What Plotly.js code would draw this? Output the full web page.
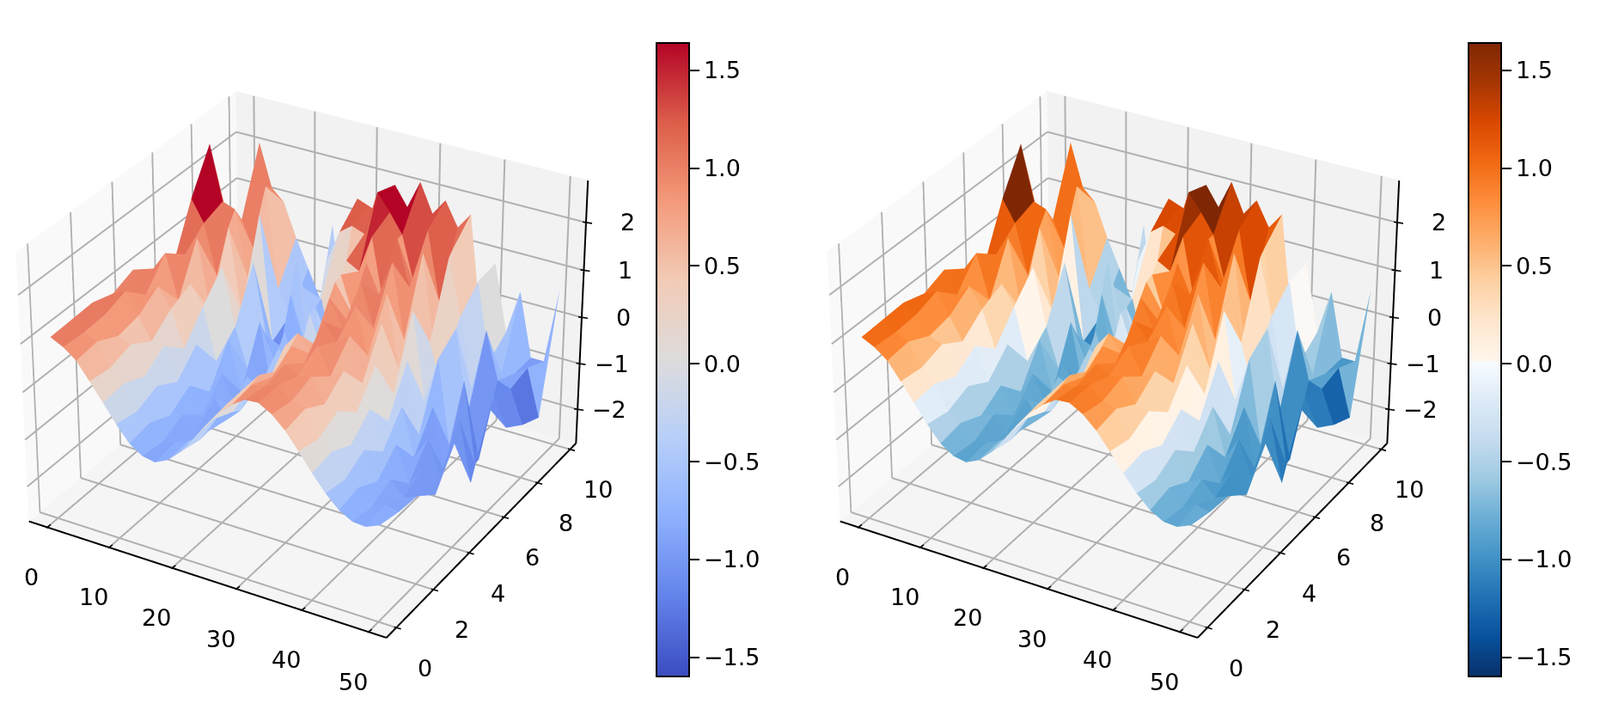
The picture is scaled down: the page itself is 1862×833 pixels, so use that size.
<!DOCTYPE html>
<html>
<head>
<meta charset="utf-8">
<script src="https://cdn.plot.ly/plotly-3.0.1.min.js"></script>
<style>
html,body{margin:0;padding:0;background:#fff;width:1862px;height:833px;overflow:hidden}
#plot{position:absolute;left:0;top:-1257px;width:1862px;height:3332px}
</style>
</head>
<body>
<div id="plot"></div>
<script>
const xValues = [0,2,4,6,8,10,12,14,16,18,20,22,24,26,28,30,32,34,36,38,40,42,44,46,48,50]
const yValues = [0,1,2,3,4,5,6,7,8,9,10]

// heights, one row per y
const row0 = [1.08,.95,.75,.40,.04,-.33,-.65,-.83,-.88,-.75,-.50,-.15,.22,.55,.80,.98,1.00,.85,.60,.26,-.10,-.43,-.69,-.84,-.86,-.74]
const row1 = [1.10,.92,.80,.34,.08,-.42,-.58,-.90,-.82,-.72,-.60,-.10,.28,.48,.85,.90,1.00,.76,.68,.15,-.03,-.52,-.60,-.92,-.78,-.85]
const row2 = [1.12,.95,.58,.48,-.12,-.24,-.78,-.68,-1.00,-.88,-.40,-.30,.30,.62,.66,1.00,.84,.90,.42,.36,-.26,-.28,-.85,-.72,-1.02,-.90]
const row3 = [.98,1.10,.66,.20,.18,-.50,-.50,-1.05,-.62,-.98,-.72,-.02,-.05,.36,.95,.68,1.10,.56,.75,-.02,.12,-.68,-.45,-1.18,-.78,-1.25]
const row4 = [1.15,.70,.95,.55,-.22,-.05,-.98,-.52,-1.12,-.42,-.55,-.50,.45,.80,.45,1.20,.85,1.05,.15,.60,-.48,-.10,-1.08,-.62,-1.35,-.55]
const row5 = [.85,1.25,.32,.75,.35,-.75,-.22,-1.25,-.55,-1.28,-.10,-.85,.20,.20,1.28,.70,1.25,.30,1.05,-.35,.42,-1.05,-.38,-1.65,-.45,-1.75]
const row6 = [.60,.90,1.32,-.15,.85,-.35,-1.20,-.10,-1.55,-.15,-1.05,.40,-.55,1.20,.45,1.35,.45,1.25,-.25,1.05,-.75,.20,-1.55,-.10,-1.80,-.55]
const row7 = [1.70,1.25,.20,1.30,-.45,.70,-.80,-1.45,.25,-1.70,.10,-1.20,.95,.15,1.35,.75,1.50,-.05,1.15,.05,-.85,.50,-1.30,-2.15,-.70,-1.30]
const row8 = [2.55,1.40,1.30,-.10,1.35,-1.35,-1.45,.55,-1.50,-.10,-1.20,.85,.70,1.50,.10,1.60,.65,1.45,-.55,1.50,.35,-1.15,.20,-.80,-.90,-1.60]
const row9 = [.45,.70,.10,1.55,-.60,-1.10,-.40,-1.30,.30,1.00,1.20,1.10,2.05,1.70,1.30,.30,1.55,.10,1.30,-.75,.75,-.90,-1.10,-1.00,-.80,-1.80]
const row10 = [-.30,2.05,1.15,.90,.20,-.40,-1.00,.70,-1.35,1.40,1.30,1.20,1.90,1.50,2.10,1.50,1.85,1.35,1.70,-.60,.80,-.60,.35,-1.00,-1.00,.60]
const zRows = [row0,row1,row2,row3,row4,row5,row6,row7,row8,row9,row10]

const xTicks = [0,10,20,30,40,50]
const yTicks = [0,2,4,6,8,10]
const zTicks = [-2,-1,0,1,2]
const xRange = [-3, 52.7]
const yRange = [-0.53, 10.38]
const zRange = [-2.76, 2.87]

const coolwarm = [[0,'#3b4cc0'],[.125,'#6282ea'],[.25,'#8db0fe'],[.375,'#b7cff9'],[.5,'#dddcdc'],[.625,'#f2cbb7'],[.75,'#f49a7b'],[.875,'#dc5d4a'],[1,'#b40426']]
const blueOrange = [[0,'#08306b'],[.0625,'#08519c'],[.125,'#2171b5'],[.1875,'#4292c6'],[.25,'#6baed6'],[.3125,'#9ecae1'],[.375,'#c6dbef'],[.4375,'#deebf7'],[.495,'#f7fbff'],[.5,'#fff5eb'],[.5625,'#fee6ce'],[.625,'#fdd0a2'],[.6875,'#fdae6b'],[.75,'#fd8d3c'],[.8125,'#f16913'],[.875,'#d94801'],[.9375,'#a63603'],[1,'#7f2704']]

const fontName = '"DejaVu Sans", sans-serif'
const fontSize = 27
const figHeight = 3332
const figTop = 1257

// anything exactly on the upper range limit gets dropped, so stay just inside
const xLo = xRange[0] + 0.01, xHi = xRange[1] - 0.05
const yLo = yRange[0] + 0.01, yHi = yRange[1] - 0.01
const zLo = zRange[0] + 0.005, zHi = zRange[1] - 0.005

function surfaceTrace(scene, colorscale, barX) {
  const nx = xValues.length, ny = yValues.length
  const xs = [], ys = [], zs = [], i = [], j = [], k = [], cell = []
  for (let r = 0; r < ny; r++) {
    for (let c = 0; c < nx; c++) {
      xs.push(xValues[c]); ys.push(yValues[r]); zs.push(zRows[r][c])
    }
  }
  for (let r = 0; r < ny - 1; r++) {
    for (let c = 0; c < nx - 1; c++) {
      const a = r*nx + c, b = a + 1, d = a + nx, e = d + 1
      const avg = (zs[a] + zs[b] + zs[d] + zs[e]) / 4
      i.push(a, b); j.push(b, e); k.push(d, d)
      cell.push(avg, avg)
    }
  }
  return {
    type: 'mesh3d', scene: scene, x: xs, y: ys, z: zs, i: i, j: j, k: k,
    intensity: cell, intensitymode: 'cell', colorscale: colorscale,
    cmin: -1.6, cmax: 1.637, flatshading: true, hoverinfo: 'skip',
    lighting: {ambient: 1, diffuse: 0, specular: 0, roughness: 1, fresnel: 0},
    colorbar: {
      x: barX, xanchor: 'left', y: 1 - (419 + figTop)/figHeight, yanchor: 'middle', len: 737, lenmode: 'pixels',
      thickness: 38, thicknessmode: 'pixels', outlinewidth: 2, outlinecolor: '#000',
      tick0: -1.5, dtick: 0.5, tickformat: '.1f', ticks: 'outside', ticklen: 11, tickwidth: 2,
      tickcolor: '#000', tickfont: {family: fontName, size: fontSize, color: '#000'},
      xpad: 0, ypad: 0
    }
  }
}

// gl grid lines stay one pixel wide, so the matplotlib style grid is drawn as thick 3d lines
function gridTrace(scene) {
  const xs = [], ys = [], zs = []
  function seg(a, b) {
    xs.push(a[0], b[0], null); ys.push(a[1], b[1], null); zs.push(a[2], b[2], null)
  }
  xTicks.forEach(v => { seg([v, yLo, zLo], [v, yHi, zLo]); seg([v, yHi, zLo], [v, yHi, zHi]) })
  yTicks.forEach(v => { seg([xLo, v, zLo], [xHi, v, zLo]); seg([xLo, v, zLo], [xLo, v, zHi]) })
  zTicks.forEach(v => { seg([xLo, yLo, v], [xLo, yHi, v]); seg([xLo, yHi, v], [xHi, yHi, v]) })
  return {
    type: 'scatter3d', scene: scene, mode: 'lines', hoverinfo: 'skip', showlegend: false,
    x: xs, y: ys, z: zs, connectgaps: false, line: {color: '#b0b0b0', width: 4}
  }
}

// plotly would put the z axis on the far left from this view, so all three are drawn here
function axisLines(scene) {
  const xs = [xLo, xHi, null, xHi, xHi, null, xHi, xHi]
  const ys = [yLo, yLo, null, yLo, yHi, null, yHi, yHi]
  const zs = [zLo, zLo, null, zLo, zLo, null, zLo, zHi]
  return {
    type: 'scatter3d', scene: scene, mode: 'lines', hoverinfo: 'skip', showlegend: false,
    x: xs, y: ys, z: zs, connectgaps: false, line: {color: '#000', width: 4}
  }
}

function axis(range, pane) {
  return {
    range: range, title: {text: ''}, showbackground: true, backgroundcolor: pane,
    showgrid: false, showline: false, ticks: '', zeroline: false, showspikes: false,
    showticklabels: false
  }
}

function label(x, y, z, text, xshift, yshift, anchor) {
  return {
    x: x, y: y, z: z, text: text, showarrow: false, xshift: xshift, yshift: yshift,
    xanchor: anchor, yanchor: 'middle', font: {family: fontName, size: fontSize, color: '#000'}
  }
}

function tickMark(x, y, z, dx, dy) {
  return {
    x: x, y: y, z: z, text: ' ', showarrow: true, xshift: dx, yshift: dy, ax: -2*dx, ay: 2*dy,
    arrowhead: 0, arrowwidth: 1.6, arrowcolor: '#000', standoff: 0, startstandoff: 0
  }
}

function tickLabels() {
  const out = []
  xTicks.forEach(v => {
    out.push(label(v, yLo, zLo, String(v), -18, -58, 'center'))
    out.push(tickMark(v, yLo, zLo, 4, 3))
  })
  yTicks.forEach(v => {
    out.push(label(xHi, v, zLo, String(v), 33, -47, 'center'))
    out.push(tickMark(xHi, v, zLo, 5.5, -1.6))
  })
  zTicks.forEach(v => {
    out.push(label(xHi, yHi, v, String(v).replace('-', '\u2212'), 59, 0, 'right'))
    out.push(tickMark(xHi, yHi, v, 7, -1))
  })
  return out
}

function sceneLayout(domainX) {
  return {
    domain: {x: domainX, y: [0, 1]},
    aspectmode: 'manual', aspectratio: {x: 1, y: 1, z: 0.75},
    camera: {eye: {x: 3.65, y: -6.33, z: 4.21}, center: {x: 0, y: 0, z: 0}, up: {x: 0, y: 0, z: 1}},
    xaxis: axis(xRange, '#f9f9f9'),
    yaxis: axis(yRange, '#f2f2f2'),
    zaxis: axis(zRange, '#f5f5f5'),
    annotations: tickLabels()
  }
}

const layout = {
  width: 1862, height: figHeight, paper_bgcolor: '#fff', showlegend: false,
  margin: {l: 0, r: 0, t: 0, b: 0},
  scene: sceneLayout([5/1862, 711/1862]),
  scene2: sceneLayout([949/1862, 1655/1862])
}

const traces = [
  surfaceTrace('scene', coolwarm, 764/1862), gridTrace('scene'), axisLines('scene'),
  surfaceTrace('scene2', blueOrange, 1709/1862), gridTrace('scene2'), axisLines('scene2')
]
Plotly.newPlot('plot', traces, layout, {displayModeBar: false})
</script>
</body>
</html>
